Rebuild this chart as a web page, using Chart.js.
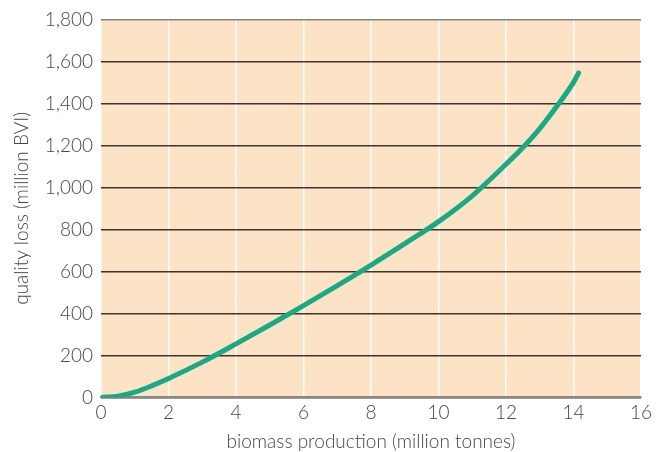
<!DOCTYPE html>
<html lang="en">
<head>
  <meta charset="UTF-8" />
  <title>Biomass production vs quality loss</title>
  <style>
    html, body { margin: 0; padding: 0; background: #ffffff; }
    #wrap { width: 667px; height: 452px; }
  </style>
</head>
<body>
  <div id="wrap"><canvas id="chart" width="667" height="452"></canvas></div>

  <script src="https://cdn.jsdelivr.net/npm/chart.js"></script>
  <script>
    // Curve: biomass (million tonnes) vs quality loss (million BVI).
    const biomass = [0, 0.5, 1, 1.5, 2, 3, 4, 5, 6, 7, 8, 9, 10, 11, 12, 12.5, 13, 13.5, 14, 14.15];
    const qualityLoss = [0, 6, 25, 55, 90, 168, 255, 345, 437, 532, 630, 732, 837, 960, 1110, 1190, 1280, 1385, 1500, 1545];

    const xTicks = [0, 2, 4, 6, 8, 10, 12, 14, 16];
    const yTicks = [0, 200, 400, 600, 800, 1000, 1200, 1400, 1600, 1800];

    const textColor = '#454545';
    const font = { family: 'Lato', size: 19, weight: '300' };

    // Paint the peach plot-area background.
    const plotBackground = {
      id: 'plotBackground',
      beforeDraw(chart) {
        const { ctx, chartArea: a } = chart;
        ctx.save();
        ctx.fillStyle = '#fde3c6';
        ctx.fillRect(a.left, a.top, a.right - a.left, a.bottom - a.top);
        ctx.restore();
      }
    };

    new Chart(document.getElementById('chart'), {
      type: 'line',
      data: {
        datasets: [{
          data: biomass.map((x, i) => ({ x: x, y: qualityLoss[i] })),
          borderColor: '#1aa985',
          borderWidth: 5,
          borderCapStyle: 'round',
          pointRadius: 0,
          tension: 0.4,
          cubicInterpolationMode: 'monotone',
          fill: false
        }]
      },
      options: {
        responsive: false,
        animation: false,
        layout: { padding: { top: 6, right: 26, left: 10, bottom: -1 } },
        plugins: { legend: { display: false }, tooltip: { enabled: false } },
        scales: {
          x: {
            type: 'linear',
            min: 0,
            max: 16,
            afterBuildTicks: axis => { axis.ticks = xTicks.map(v => ({ value: v })); },
            grid: { color: '#ffffff', lineWidth: 1.5, drawTicks: false },
            border: { color: '#8c8783', width: 2 },
            ticks: { color: textColor, font: font, padding: 4 },
            title: { display: true, text: 'biomass production (million tonnes)', color: textColor, font: font, padding: { top: 2, bottom: 0 } }
          },
          y: {
            min: 0,
            max: 1800,
            afterBuildTicks: axis => { axis.ticks = yTicks.map(v => ({ value: v })); },
            grid: {
              color: ctx => ctx.tick && ctx.tick.value === 1800 ? '#8a7f78' : '#3d3531',
              lineWidth: 1.5,
              drawTicks: false
            },
            border: { display: false },
            ticks: {
              color: textColor,
              font: font,
              padding: 8,
              callback: v => v.toLocaleString('en-US')
            },
            title: { display: true, text: 'quality loss (million BVI)', color: textColor, font: font, padding: { top: 0, bottom: 4 } }
          }
        }
      },
      plugins: [plotBackground]
    });
  </script>
</body>
</html>
